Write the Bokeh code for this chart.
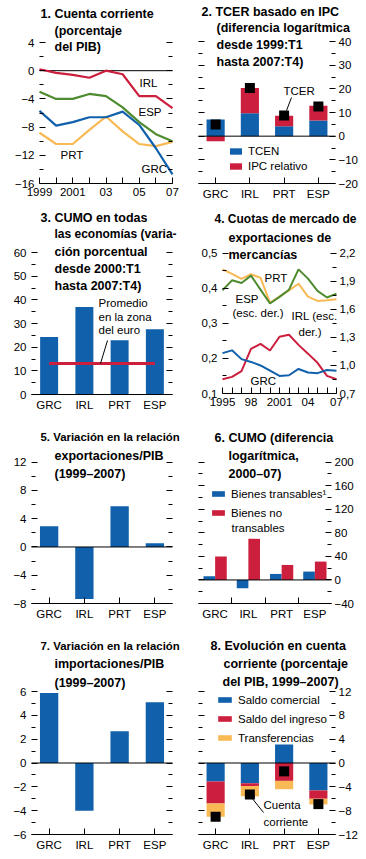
from bokeh.plotting import figure
from bokeh.layouts import column, row
from bokeh.models import (FixedTicker, Range1d, LinearAxis, Label,
                          Legend, LegendItem)
from bokeh.embed import file_html
from bokeh.resources import INLINE

# ---------------- data ----------------
CATS = ["GRC", "IRL", "PRT", "ESP"]

# 1. Cuenta corriente (% del PIB)
P1_YEARS = [1999, 2000, 2001, 2002, 2003, 2004, 2005, 2006, 2007]
P1_IRL = [0.2, -0.3, -0.6, -1.0, 0.0, -0.5, -3.6, -3.6, -5.3]
P1_ESP = [-3.0, -4.0, -4.0, -3.3, -3.6, -5.2, -7.3, -9.0, -10.0]
P1_GRC = [-5.7, -7.8, -7.3, -6.6, -6.6, -5.8, -7.7, -11.0, -14.7]
P1_PRT = [-8.8, -10.4, -10.4, -8.4, -6.5, -8.6, -10.4, -10.7, -10.1]
P1_XTICKS = [1999, 2001, 2003, 2005, 2007]
P1_XLABELS = ["1999", "2001", "03", "05", "07"]
P1_YTICKS = [-16, -12, -8, -4, 0, 4]
P1_YLABELS = ["\u221216", "\u221212", "\u22128", "\u22124", "0", "4"]

# 2. TCER basado en IPC
P2_TCEN = [7.0, 9.7, 4.2, 6.6]
P2_IPC = [-2.1, 10.7, 4.4, 6.2]
P2_TCER = [4.9, 20.4, 8.7, 12.5]
P2_YTICKS = [-20, -10, 0, 10, 20, 30, 40]
P2_YLABELS = ["\u221220", "\u221210", "0", "10", "20", "30", "40"]

# 3. CUMO en todas las economias
P3_CUMO = [24.3, 37.0, 22.9, 27.6]
P3_EURO = 13.1
P3_YTICKS = [0, 10, 20, 30, 40, 50, 60]
P3_YLABELS = ["0", "10", "20", "30", "40", "50", "60"]

# 4. Cuotas de mercado de exportaciones de mercancias
P4_YEARS = [1995, 1996, 1997, 1998, 1999, 2000, 2001, 2002, 2003, 2004, 2005, 2006, 2007]
P4_GRC = [0.215, 0.223, 0.198, 0.190, 0.180, 0.165, 0.150, 0.152, 0.170, 0.160, 0.158, 0.167, 0.165]
P4_PRT = [0.454, 0.441, 0.427, 0.440, 0.430, 0.359, 0.376, 0.394, 0.413, 0.376, 0.364, 0.366, 0.369]
P4_IRL = [0.853, 0.878, 0.940, 1.178, 1.230, 1.160, 1.307, 1.328, 1.220, 1.126, 1.028, 0.888, 0.853]
P4_ESP = [1.804, 1.910, 1.882, 1.960, 1.810, 1.662, 1.733, 1.810, 2.027, 1.928, 1.797, 1.726, 1.768]
P4_XTICKS = [1995, 1998, 2001, 2004, 2007]
P4_XLABELS = ["1995", "98", "2001", "04", "07"]
P4_LTICKS = [0.1, 0.2, 0.3, 0.4, 0.5]
P4_LLABELS = ["0,1", "0,2", "0,3", "0,4", "0,5"]
P4_RTICKS = [0.7, 1.0, 1.3, 1.6, 1.9, 2.2]
P4_RLABELS = ["0,7", "1,0", "1,3", "1,6", "1,9", "2,2"]

# 5. Variacion en la relacion exportaciones/PIB
P5_VAL = [2.93, -7.38, 5.77, 0.52]
P5_YTICKS = [-8, -4, 0, 4, 8, 12]
P5_YLABELS = ["\u22128", "\u22124", "0", "4", "8", "12"]

# 6. CUMO (diferencia logaritmica)
P6_TRANS = [6.2, -14.2, 10.2, 14.2]
P6_NOTRANS = [39.7, 69.8, 25.5, 31.2]
P6_YTICKS = [-40, 0, 40, 80, 120, 160, 200]
P6_YLABELS = ["\u221240", "0", "40", "80", "120", "160", "200"]

# 7. Variacion en la relacion importaciones/PIB
P7_VAL = [5.87, -4.0, 2.66, 5.09]
P7_YTICKS = [-6, -4, -2, 0, 2, 4, 6]
P7_YLABELS = ["\u22126", "\u22124", "\u22122", "0", "2", "4", "6"]

# 8. Evolucion en cuenta corriente
P8_COM = [-3.1, -3.4, 3.1, -4.6]
P8_ING = [-3.7, -0.45, -3.0, -1.4]
P8_TRF = [-2.2, -1.75, -1.4, -0.95]
P8_CA = [-9.0, -5.3, -1.4, -6.9]
P8_YTICKS = [-12, -8, -4, 0, 4, 8, 12]
P8_YLABELS = ["\u221212", "\u22128", "\u22124", "0", "4", "8", "12"]

# ---------------- style ----------------
FONT = "Liberation Sans"
TICK_PX = "11.5px"
TEXT_PX = 11.5
TITLE_PX = 12.5
BLUE = "#1160AB"
RED = "#CC1F3D"
ORANGE = "#F9B955"
GREEN = "#4E8B2F"

SX = 1.0
SY = 1.0
ROWS = [0, 205, 420, 630, 859]
COLS = [0, 183, 366]
IDX = list(range(len(CATS)))
CAT_BOUNDS = (-0.5, len(CATS) - 0.5)


def stack(*series):
    n = len(series[0])
    pos = [0.0] * n
    neg = [0.0] * n
    out = []
    for s in series:
        b, t = [], []
        for i, v in enumerate(s):
            if v >= 0:
                b.append(pos[i]); t.append(pos[i] + v); pos[i] += v
            else:
                b.append(neg[i]); t.append(neg[i] + v); neg[i] += v
        out.append((b, t))
    return out


def halves(t):
    return [(a + b) / 2 for a, b in zip(t[:-1], t[1:])]


def minor_years(years, majors):
    return [y for y in years if y not in majors]


class Panel:
    """A figure whose frame fills its whole cell; reference-pixel calibration
    gives the data ranges, axes sit at fixed data locations."""

    def __init__(self, c, r, xcal, ycal, xb, ylo):
        self.L = round(COLS[c] * SX); R = round(COLS[c + 1] * SX)
        self.T = round(ROWS[r] * SY); self.B = round(ROWS[r + 1] * SY)
        self.w = R - self.L; self.h = self.B - self.T
        (xra, xa), (xrb, xbv) = xcal
        self.lxa = xra * SX - self.L
        lxb = xrb * SX - self.L
        self.xa = xa
        self.kx = (xbv - xa) / (lxb - self.lxa)
        xr = Range1d(xa - self.lxa * self.kx, xa + (self.w - self.lxa) * self.kx)
        self.ycal = ycal
        yr = self.make_yrange(ycal)
        self.xb = xb          # (left, right) data x of the plotting frame
        self.ylo = ylo        # data y of the bottom axis line
        self.p = figure(width=self.w, height=self.h, x_range=xr, y_range=yr,
                        x_axis_type=None, y_axis_type=None,
                        output_backend="svg", toolbar_location=None,
                        min_border=0, min_border_left=0, min_border_right=0,
                        min_border_top=0, min_border_bottom=0)
        self.p.outline_line_color = None

    def _ky(self, ycal):
        (yra, ya), (yrb, yb) = ycal
        lya = yra * SY - self.T
        lyb = yrb * SY - self.T
        return lya, (ya - yb) / (lyb - lya)

    def make_yrange(self, ycal):
        lya, ky = self._ky(ycal)
        ya = ycal[0][1]
        return Range1d(ya - (self.h - lya) * ky, ya + lya * ky)

    def dx(self, x):
        return self.xa + (x * SX - self.L - self.lxa) * self.kx

    def dy(self, y):
        lya, ky = self._ky(self.ycal)
        return self.ycal[0][1] - (y * SY - self.T - lya) * ky

    def text(self, x, y, s, size=TEXT_PX, bold=False):
        self.p.add_layout(Label(x=self.dx(x), y=self.dy(y), text=s,
                                text_font=FONT, text_font_size=f"{size}px",
                                text_font_style="bold" if bold else "normal",
                                text_align="left", text_baseline="middle",
                                text_color="black"))

    def title(self, lines):
        for line in lines:
            x, y, s = line[:3]
            size = line[3] if len(line) > 3 else TITLE_PX
            self.text(x, y, s, size=size, bold=True)

    def leader(self, x0, y0, x1, y1):
        self.p.line([self.dx(x0), self.dx(x1)], [self.dy(y0), self.dy(y1)],
                    line_color="black", line_width=1)

    def _tick_axis(self, side, loc, minors, length, range_name):
        ax = LinearAxis(ticker=FixedTicker(ticks=[], minor_ticks=minors), fixed_location=loc)
        if range_name:
            ax.y_range_name = range_name
        ax.axis_line_color = None
        ax.major_tick_line_color = None
        ax.minor_tick_in = length; ax.minor_tick_out = 0
        ax.minor_tick_line_color = "black"
        self.p.add_layout(ax, side)

    def yaxis(self, side, majors, minors, labels=None, range_name=None):
        loc = self.xb[0] if side == "left" else self.xb[1]
        if labels is None:
            self._tick_axis(side, loc, majors, 6, range_name)
            self._tick_axis(side, loc, minors, 4, range_name)
            return
        ax = LinearAxis(ticker=FixedTicker(ticks=majors, minor_ticks=minors), fixed_location=loc)
        if range_name:
            ax.y_range_name = range_name
        ax.axis_line_color = None
        ax.major_tick_in = 6; ax.major_tick_out = 0
        ax.minor_tick_in = 4; ax.minor_tick_out = 0
        ax.major_tick_line_color = "black"; ax.minor_tick_line_color = "black"
        ax.major_label_overrides = {m: l for m, l in zip(majors, labels)}
        ax.major_label_text_font = FONT
        ax.major_label_text_font_size = TICK_PX
        ax.major_label_text_color = "black"
        ax.major_label_standoff = 5 if side == "left" else 3
        self.p.add_layout(ax, side)

    def xaxis(self, majors, labels, minors=(), major_len=6, minor_len=6):
        ax = LinearAxis(ticker=FixedTicker(ticks=majors, minor_ticks=list(minors)),
                        fixed_location=self.ylo, bounds=self.xb)
        ax.axis_line_color = "black"; ax.axis_line_width = 1
        ax.major_tick_in = major_len; ax.major_tick_out = 0
        ax.minor_tick_in = minor_len; ax.minor_tick_out = 0
        ax.major_tick_line_color = "black" if major_len else None
        ax.minor_tick_line_color = "black"
        ax.major_label_overrides = {m: l for m, l in zip(majors, labels)}
        ax.major_label_text_font = FONT
        ax.major_label_text_font_size = TICK_PX
        ax.major_label_text_color = "black"
        ax.major_label_standoff = 4
        self.p.add_layout(ax, "below")

    def zero(self):
        self.p.segment(x0=[self.xb[0]], y0=[0], x1=[self.xb[1]], y1=[0],
                       line_color="black", line_width=1)

    def legend(self, items, ref_x, ref_yc_last, gw, gh, pitch):
        lh = 15
        lg = Legend(items=[LegendItem(label=l, renderers=[r]) for l, r in items],
                    location=(round(ref_x * SX - self.L),
                              round(self.B - (ref_yc_last * SY + lh / 2))),
                    padding=0, margin=0, spacing=max(0, round(pitch * SY - lh)),
                    label_standoff=5, glyph_width=gw, glyph_height=gh, label_height=lh,
                    border_line_color=None, background_fill_alpha=0,
                    label_text_font=FONT, label_text_font_size=TICK_PX,
                    label_text_color="black")
        self.p.add_layout(lg)


# ---------------- panel 1 ----------------
P1 = Panel(0, 0, ((39, P1_YEARS[0]), (172, P1_YEARS[-1])), ((42, 4), (183, -16)),
           (P1_YEARS[0], P1_YEARS[-1]), P1_YTICKS[0])
P1.zero()
for ys, col in [(P1_IRL, RED), (P1_ESP, GREEN), (P1_PRT, ORANGE), (P1_GRC, BLUE)]:
    P1.p.line(P1_YEARS, ys, line_color=col, line_width=2.2)
P1.yaxis("left", P1_YTICKS, halves(P1_YTICKS), P1_YLABELS)
P1.yaxis("right", P1_YTICKS, halves(P1_YTICKS))
P1.xaxis(P1_XTICKS, P1_XLABELS, minor_years(P1_YEARS, P1_XTICKS))
P1.title([(40, 13, "1. Cuenta corriente"), (54, 30, "(porcentaje"), (54, 46, "del PIB)")])
P1.text(139, 82, "IRL"); P1.text(138, 111, "ESP"); P1.text(60, 154, "PRT"); P1.text(141, 168, "GRC")

# ---------------- panel 2 ----------------
P2 = Panel(1, 0, ((198, CAT_BOUNDS[0]), (335, CAT_BOUNDS[1])), ((41, 40), (183, -20)),
           CAT_BOUNDS, P2_YTICKS[0])
(b1, t1), (b2, t2) = stack(P2_TCEN, P2_IPC)
r_tcen = P2.p.vbar(x=IDX, width=0.53, bottom=b1, top=t1, fill_color=BLUE, line_color=None)
r_ipc = P2.p.vbar(x=IDX, width=0.53, bottom=b2, top=t2, fill_color=RED, line_color=None)
P2.zero()
P2.p.scatter(x=IDX, y=P2_TCER, marker="square", size=10, fill_color="black", line_color=None)
P2.yaxis("left", P2_YTICKS, halves(P2_YTICKS))
P2.yaxis("right", P2_YTICKS, halves(P2_YTICKS), P2_YLABELS)
P2.xaxis(IDX, CATS)
P2.title([(201, 11, "2. TCER basado en IPC"), (216, 27, "(diferencia logar\u00edtmica"),
          (216, 44, "desde 1999:T1"), (216, 61, "hasta 2007:T4)")])
P2.text(283, 90, "TCER")
P2.leader(291, 97, 286, 110)
P2.legend([("TCEN", r_tcen), ("IPC relativo", r_ipc)], 228, 166, 15, 8, 15)

# ---------------- panel 3 ----------------
P3 = Panel(0, 1, ((31, CAT_BOUNDS[0]), (172, CAT_BOUNDS[1])), ((252, 60), (394, 0)),
           CAT_BOUNDS, P3_YTICKS[0])
P3.p.vbar(x=IDX, width=0.51, top=P3_CUMO, bottom=0, fill_color=BLUE, line_color=None)
P3.p.line([IDX[0], IDX[-1]], [P3_EURO, P3_EURO], line_color=RED, line_width=3)
P3.yaxis("left", P3_YTICKS, halves(P3_YTICKS), P3_YLABELS)
P3.yaxis("right", P3_YTICKS, halves(P3_YTICKS))
P3.xaxis(IDX, CATS, major_len=0)
P3.title([(40, 217, "3. CUMO en todas"), (54, 233, "las econom\u00edas (varia-", 12),
          (54, 251, "ci\u00f3n porcentual"), (54, 268, "desde 2000:T1"), (54, 285, "hasta 2007:T4)")])
P3.text(98, 302, "Promedio"); P3.text(98, 316, "en la zona"); P3.text(98, 329, "del euro")
P3.leader(107, 340, 100, 363)

# ---------------- panel 4 ----------------
P4 = Panel(1, 1, ((222, P4_YEARS[0]), (336, P4_YEARS[-1])), ((252.7, 0.5), (393, 0.1)),
           (P4_YEARS[0], P4_YEARS[-1]), P4_LTICKS[0])
P4.p.extra_y_ranges = {"right": P4.make_yrange(((252.7, 2.2), (393, 0.7)))}
P4.p.line(P4_YEARS, P4_PRT, line_color=ORANGE, line_width=2)
P4.p.line(P4_YEARS, P4_ESP, line_color=GREEN, line_width=2, y_range_name="right")
P4.p.line(P4_YEARS, P4_IRL, line_color=RED, line_width=2, y_range_name="right")
P4.p.line(P4_YEARS, P4_GRC, line_color=BLUE, line_width=2)
P4.yaxis("left", P4_LTICKS, halves(P4_LTICKS), P4_LLABELS)
P4.yaxis("right", P4_RTICKS, halves(P4_RTICKS), P4_RLABELS, range_name="right")
P4.xaxis(P4_XTICKS, P4_XLABELS, minor_years(P4_YEARS, P4_XTICKS))
P4.title([(214, 218, "4. Cuotas de mercado de", 12), (228, 237, "exportaciones de"), (228, 254, "mercanc\u00edas")])
P4.text(264, 277, "PRT"); P4.text(235, 298, "ESP"); P4.text(232, 312, "(esc. der.)")
P4.text(291, 315, "IRL (esc."); P4.text(298, 331, "der.)"); P4.text(250, 380, "GRC")

# ---------------- panel 5 ----------------
P5 = Panel(0, 2, ((31, CAT_BOUNDS[0]), (172, CAT_BOUNDS[1])), ((461.7, 12), (603, -8)),
           CAT_BOUNDS, P5_YTICKS[0])
P5.p.vbar(x=IDX, width=0.52, top=P5_VAL, bottom=0, fill_color=BLUE, line_color=None)
P5.zero()
P5.yaxis("left", P5_YTICKS, halves(P5_YTICKS), P5_YLABELS)
P5.yaxis("right", P5_YTICKS, halves(P5_YTICKS))
P5.xaxis(IDX, CATS)
P5.title([(40, 436, "5. Variaci\u00f3n en la relaci\u00f3n", 11.4), (54, 455, "exportaciones/PIB"), (54, 473, "(1999\u20132007)")])

# ---------------- panel 6 ----------------
P6 = Panel(1, 2, ((198, CAT_BOUNDS[0]), (331, CAT_BOUNDS[1])), ((461.7, 200), (603, -40)),
           CAT_BOUNDS, P6_YTICKS[0])
r_t = P6.p.vbar(x=[i - 0.175 for i in IDX], width=0.35, top=P6_TRANS, bottom=0, fill_color=BLUE, line_color=None)
r_nt = P6.p.vbar(x=[i + 0.175 for i in IDX], width=0.35, top=P6_NOTRANS, bottom=0, fill_color=RED, line_color=None)
P6.zero()
P6.yaxis("left", P6_YTICKS, halves(P6_YTICKS))
P6.yaxis("right", P6_YTICKS, halves(P6_YTICKS), P6_YLABELS)
P6.xaxis(IDX, CATS, minors=halves(IDX), major_len=0)
P6.title([(214, 437, "6. CUMO (diferencia"), (228, 455, "logar\u00edtmica,"), (228, 473, "2000\u201307)")])
P6.legend([("Bienes transables\u00b9", r_t), ("Bienes no", r_nt)], 210, 512.7, 16, 7, 19.4)
P6.text(231, 527, "transables")

# ---------------- panel 7 ----------------
P7 = Panel(0, 3, ((31, CAT_BOUNDS[0]), (172, CAT_BOUNDS[1])), ((691, 6), (834, -6)),
           CAT_BOUNDS, P7_YTICKS[0])
P7.p.vbar(x=IDX, width=0.52, top=P7_VAL, bottom=0, fill_color=BLUE, line_color=None)
P7.zero()
P7.yaxis("left", P7_YTICKS, halves(P7_YTICKS), P7_YLABELS)
P7.yaxis("right", P7_YTICKS, halves(P7_YTICKS))
P7.xaxis(IDX, CATS)
P7.title([(40, 645, "7. Variaci\u00f3n en la relaci\u00f3n", 11.4), (54, 663, "importaciones/PIB"), (54, 682, "(1999\u20132007)")])

# ---------------- panel 8 ----------------
P8 = Panel(1, 3, ((198, CAT_BOUNDS[0]), (335, CAT_BOUNDS[1])), ((691, 12), (834, -12)),
           CAT_BOUNDS, P8_YTICKS[0])
(c_b, c_t), (i_b, i_t), (f_b, f_t) = stack(P8_COM, P8_ING, P8_TRF)
r_c = P8.p.vbar(x=IDX, width=0.53, bottom=c_b, top=c_t, fill_color=BLUE, line_color=None)
r_i = P8.p.vbar(x=IDX, width=0.53, bottom=i_b, top=i_t, fill_color=RED, line_color=None)
r_f = P8.p.vbar(x=IDX, width=0.53, bottom=f_b, top=f_t, fill_color=ORANGE, line_color=None)
P8.zero()
P8.p.scatter(x=IDX, y=P8_CA, marker="square", size=10, fill_color="black", line_color=None)
P8.yaxis("left", P8_YTICKS, halves(P8_YTICKS))
P8.yaxis("right", P8_YTICKS, halves(P8_YTICKS), P8_YLABELS)
P8.xaxis(IDX, CATS)
P8.title([(210, 645, "8. Evoluci\u00f3n en cuenta"), (223, 663, "corriente (porcentaje"),
          (222, 681, "del PIB, 1999\u20132007)")])
P8.legend([("Saldo comercial", r_c), ("Saldo del ingreso", r_i), ("Transferencias", r_f)], 216, 737.5, 17, 7, 18.5)
P8.text(263, 804, "Cuenta"); P8.text(263, 821, "corriente")
P8.leader(251, 797, 263, 812)

layout = column(row(P1.p, P2.p), row(P3.p, P4.p), row(P5.p, P6.p), row(P7.p, P8.p))
open("out.html", "w").write(file_html(layout, INLINE))
